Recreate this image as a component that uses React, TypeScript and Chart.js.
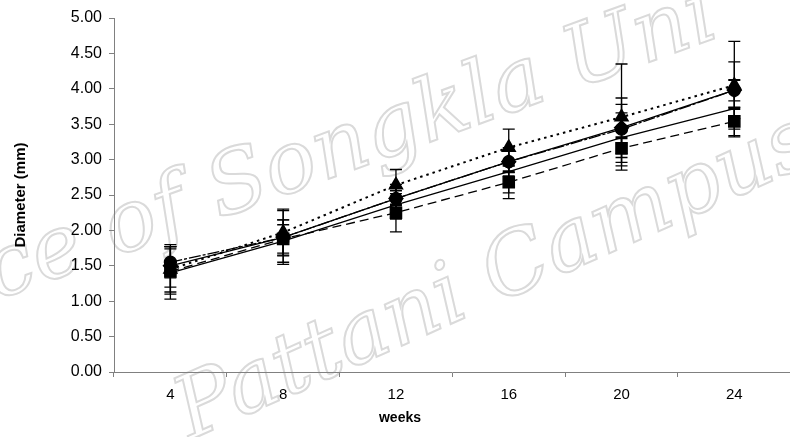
import React, { useEffect, useRef } from "react";
import { Chart, registerables } from "chart.js";

Chart.register(...registerables);

const weeks = ["4", "8", "12", "16", "20", "24"];
const yTicks = [0, 0.5, 1, 1.5, 2, 2.5, 3, 3.5, 4, 4.5, 5];

const diamondVals = [1.5, 1.9, 2.45, 2.97, 3.45, 3.98];
const diamondErr = [0.3, 0.38, 0.2, 0.2, 0.42, 0.4];
const circleVals = [1.55, 1.9, 2.45, 2.97, 3.43, 3.98];
const circleErr = [0.22, 0.25, 0.15, 0.15, 0.35, 0.15];
const triangleVals = [1.45, 1.97, 2.64, 3.17, 3.6, 4.05];
const triangleErr = [0.32, 0.33, 0.22, 0.26, 0.75, 0.62];
const squareVals = [1.42, 1.88, 2.25, 2.68, 3.16, 3.54];
const squareErr = [0.32, 0.2, 0.27, 0.23, 0.25, 0.2];
const plainVals = [1.4, 1.85, 2.36, 2.83, 3.31, 3.72];
const plainErr = [0.37, 0.3, 0.2, 0.3, 0.35, 0.4];

const errors = [diamondErr, circleErr, triangleErr, squareErr, plainErr];

const errorBarPlugin = {
  id: "errorBars",
  beforeDatasetsDraw(chart: any) {
    const ctx = chart.ctx;
    const yScale = chart.scales.y;
    ctx.save();
    ctx.strokeStyle = "#000";
    ctx.lineWidth = 1.3;
    chart.data.datasets.forEach((ds: any, di: number) => {
      const meta = chart.getDatasetMeta(di);
      const errs = errors[di];
      meta.data.forEach((pt: any, i: number) => {
        const v = ds.data[i];
        const e = errs[i];
        const x = pt.x;
        const yTop = yScale.getPixelForValue(v + e);
        const yBot = yScale.getPixelForValue(v - e);
        ctx.beginPath();
        ctx.moveTo(x, yTop);
        ctx.lineTo(x, yBot);
        ctx.moveTo(x - 6, yTop);
        ctx.lineTo(x + 6, yTop);
        ctx.moveTo(x - 6, yBot);
        ctx.lineTo(x + 6, yBot);
        ctx.stroke();
      });
    });
    ctx.restore();
  },
};

const decorPlugin = {
  id: "decor",
  beforeDraw(chart: any) {
    const ctx = chart.ctx;
    ctx.save();
    ctx.strokeStyle = "#dadada";
    ctx.lineWidth = 2;
    ctx.font = "italic 86px 'DejaVu Serif'";
    ctx.save();
    ctx.translate(-4, 300);
    ctx.rotate((-20 * Math.PI) / 180);
    ctx.strokeText("ce of Songkla Uni", 0, 0);
    ctx.restore();
    ctx.save();
    ctx.translate(190, 440);
    ctx.rotate((-24 * Math.PI) / 180);
    ctx.strokeText("Pattani Campus", 0, 0);
    ctx.restore();
    ctx.restore();
  },
  afterDraw(chart: any) {
    const ctx = chart.ctx;
    ctx.save();
    ctx.fillStyle = "#000";
    ctx.font = "bold 14px 'Liberation Sans'";
    ctx.textAlign = "center";
    ctx.textBaseline = "middle";
    ctx.fillText("weeks", 400, 418);
    ctx.restore();
  },
};

export default function App() {
  const ref = useRef<HTMLCanvasElement>(null);

  useEffect(() => {
    const base = {
      borderColor: "#000",
      backgroundColor: "#000",
      pointBackgroundColor: "#000",
      pointBorderColor: "#000",
      borderWidth: 1.3,
      fill: false,
      tension: 0,
    };
    const chart = new Chart(ref.current!, {
      type: "line",
      data: {
        labels: weeks,
        datasets: [
          { ...base, label: "A", data: diamondVals, pointStyle: "rectRot", pointRadius: 7 },
          { ...base, label: "B", data: circleVals, pointStyle: "circle", pointRadius: 6, borderDash: [12, 2, 3, 2] },
          { ...base, label: "C", data: triangleVals, pointStyle: "triangle", pointRadius: 7, borderDash: [2.5, 4], borderWidth: 2 },
          { ...base, label: "D", data: squareVals, pointStyle: "rect", pointRadius: 8, borderDash: [9, 5] },
          { ...base, label: "E", data: plainVals, pointStyle: "line", pointRadius: 6, pointBorderWidth: 3 },
        ],
      },
      options: {
        animation: false,
        responsive: false,
        maintainAspectRatio: false,
        layout: { padding: { top: 18, right: 4, left: 12, bottom: 0 } },
        plugins: { legend: { display: false }, tooltip: { enabled: false } },
        scales: {
          x: {
            type: "category",
            offset: true,
            grid: { drawOnChartArea: false, drawTicks: true, tickLength: 5, color: "#808080", offset: true },
            border: { color: "#808080", width: 1 },
            ticks: { color: "#000", font: { family: "'Liberation Sans'", size: 15 }, padding: 9, maxRotation: 0 },
            afterFit: (s: any) => { s.height = 65; },
          },
          y: {
            min: 0,
            max: 5,
            afterBuildTicks: (s: any) => { s.ticks = yTicks.map((v) => ({ value: v })); },
            grid: { drawOnChartArea: false, drawTicks: true, tickLength: 5, color: "#808080" },
            border: { color: "#808080", width: 1 },
            ticks: {
              color: "#000",
              font: { family: "'Liberation Sans'", size: 16 },
              padding: 7,
              callback: (v: any) => Number(v).toFixed(2),
            },
            title: { display: true, text: "Diameter (mm)", color: "#000", font: { family: "'Liberation Sans'", size: 15, weight: "bold" }, padding: 0 },
            afterFit: (s: any) => { s.width = 102; },
          },
        },
      },
      plugins: [errorBarPlugin, decorPlugin],
    });
    return () => chart.destroy();
  }, []);

  return (
    <div style={{ position: "fixed", left: 0, top: 0, width: 790, height: 437, overflow: "hidden", background: "#fff" }}>
      <canvas ref={ref} width={800} height={437} style={{ display: "block" }} />
    </div>
  );
}
